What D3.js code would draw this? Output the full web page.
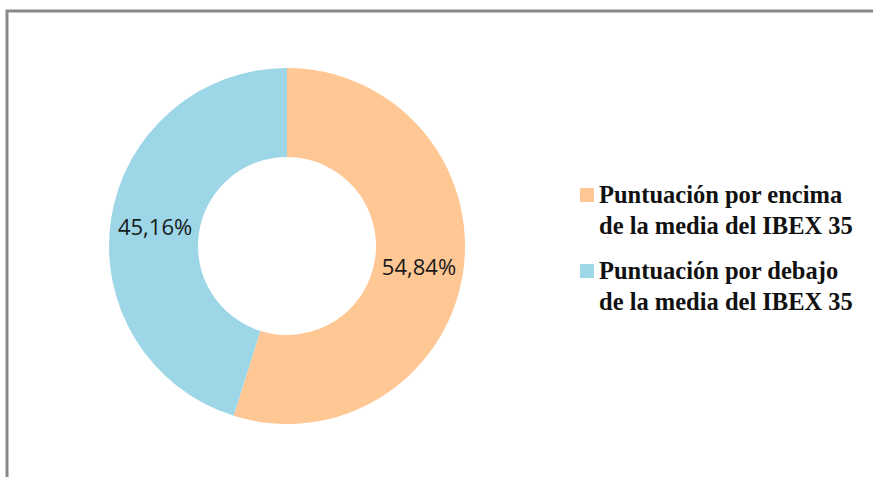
<!DOCTYPE html>
<html>
<head>
<meta charset="utf-8">
<script src="https://cdn.jsdelivr.net/npm/d3@7"></script>
<style>
  body { margin: 0; background: #fff; }
  svg { display: block; }
</style>
</head>
<body>
<svg id="chart"></svg>
<script>
// values
const categories = ['Puntuación por encima de la media del IBEX 35',
                    'Puntuación por debajo de la media del IBEX 35'];
const legendLines = [['Puntuación por encima', 'de la media del IBEX 35'],
                     ['Puntuación por debajo', 'de la media del IBEX 35']];
const values = [54.84, 45.16];
const valueLabels = ['54,84%', '45,16%'];
const colors = ['#fec794', '#9dd6e7'];

const width = 873, height = 477;
const cx = 287, cy = 246, outerR = 178, innerR = 89;

const svg = d3.select('#chart')
    .attr('width', width)
    .attr('height', height);

// chart frame (only top and left edges show inside the window)
svg.append('path')
    .attr('d', `M7,${height + 5} L7,11 L${width + 5},11`)
    .attr('fill', 'none')
    .attr('stroke', '#898989')
    .attr('stroke-width', 3);

const pie = d3.pie().sort(null).value(d => d);
const arc = d3.arc().innerRadius(innerR).outerRadius(outerR);
const labelArc = d3.arc().innerRadius((innerR + outerR) / 2).outerRadius((innerR + outerR) / 2);

const g = svg.append('g')
    .attr('transform', `translate(${cx},${cy})`);

const arcs = pie(values);

g.selectAll('path.slice')
    .data(arcs)
    .join('path')
    .attr('class', 'slice')
    .attr('d', arc)
    .attr('fill', (d, i) => colors[i]);

g.selectAll('text.value')
    .data(arcs)
    .join('text')
    .attr('class', 'value')
    .attr('transform', d => `translate(${labelArc.centroid(d)})`)
    .attr('text-anchor', 'middle')
    .attr('dy', '0.4em')
    .attr('font-family', '"Open Sans", sans-serif')
    .attr('font-size', 22)
    .attr('fill', '#1a1a1a')
    .text((d, i) => valueLabels[i]);

// legend
const legend = svg.append('g')
    .attr('transform', 'translate(580,0)');

const item = legend.selectAll('g.item')
    .data(categories)
    .join('g')
    .attr('class', 'item')
    .attr('transform', (d, i) => `translate(0,${188 + i * 76})`);

item.append('rect')
    .attr('width', 14)
    .attr('height', 14)
    .attr('fill', (d, i) => colors[i]);

item.append('text')
    .attr('x', 19)
    .attr('font-family', '"Liberation Serif", "Times New Roman", serif')
    .attr('font-size', 24.5)
    .attr('font-weight', 'bold')
    .attr('fill', '#111')
    .selectAll('tspan')
    .data((d, i) => legendLines[i])
    .join('tspan')
    .attr('x', 19)
    .attr('y', (d, j) => 15 + j * 31)
    .text(d => d);
</script>
</body>
</html>
